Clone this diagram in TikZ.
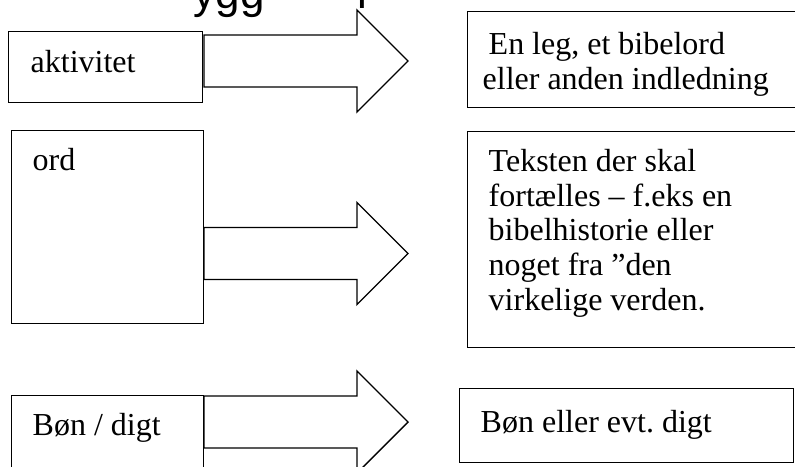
\documentclass[tikz,border=0pt]{standalone}
\usepackage{fontspec}
\setmainfont{Liberation Serif}
\newfontfamily\titlefont{Liberation Sans}
\frenchspacing
\begin{document}
\frenchspacing
\begin{tikzpicture}[x=1pt,y=-1pt,line width=1.4pt,
  box/.style={draw,rectangle,inner sep=0pt,anchor=north west},
  txt/.style={inner sep=0pt,anchor=base west,font=\fontsize{32}{34.7}\selectfont\frenchspacing,align=left},
  ttl/.style={inner sep=0pt,anchor=base west,font=\titlefont\fontsize{44}{44}\selectfont},
  barrow/.pic={\draw[line join=miter] (0,-26) -- (153,-26) -- (153,-51) -- (204,0) -- (153,51) -- (153,26) -- (0,26) -- cycle;}]
\useasboundingbox (0,0) rectangle (795,466);
\clip (0,0) rectangle (795,466);
% cut-off title fragments
\node[ttl] (title) at (193,8) {ygg};
\node[ttl] (title2) at (356.5,8) {l};
% left boxes
\node[box,minimum width=194pt,minimum height=71pt] (akt) at (8,31) {};
\node[box,minimum width=192pt,minimum height=193pt] (ord) at (11,130) {};
\node[box,minimum width=192pt,minimum height=90pt] (bon) at (11,395) {};
\node[txt] (akttxt) at (30,72) {aktivitet};
\node[txt] (ordtxt) at (32,170.5) {ord};
\node[txt] (bontxt) at (32,435) {Bøn / digt};
% block arrows
\coordinate (a1) at (204,61);
\coordinate (a2) at (204,253.5);
\coordinate (a3) at (204,422);
\pic at (a1) {barrow};
\pic at (a2) {barrow};
\pic at (a3) {barrow};
% right boxes
\node[box,minimum width=340pt,minimum height=96pt] (r1) at (467,10.7) {};
\node[box,minimum width=340pt,minimum height=215.7pt] (r2) at (467,131) {};
\node[box,minimum width=334pt,minimum height=74pt] (r3) at (459,388) {};
\node[txt] (r1txt) at (482,89) {\hspace*{6pt}En leg, et bibelord\\eller anden indledning};
\node[txt] (r2txt) at (488,310.3) {Teksten der skal\\fortælles – f.eks en\\bibelhistorie eller\\noget fra ”den\\virkelige verden.};
\node[txt] (r3txt) at (480,432) {Bøn eller evt. digt};
\end{tikzpicture}
\end{document}
